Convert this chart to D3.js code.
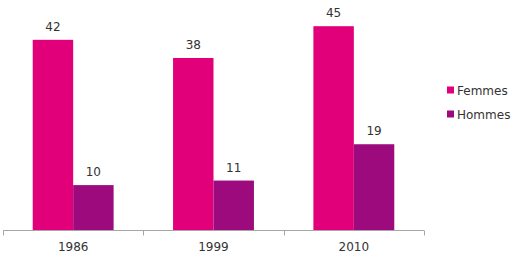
<!DOCTYPE html>
<html>
<head>
<meta charset="utf-8">
<script src="https://cdn.jsdelivr.net/npm/d3@7"></script>
<style>
  body { margin: 0; background: #fff; }
  text { font-family: "DejaVu Sans", Verdana, sans-serif; fill: #333; }
</style>
</head>
<body>
<svg width="514" height="257"></svg>
<script>
const years = ['1986', '1999', '2010'];
const series = ['Femmes', 'Hommes'];
const femmes = [42, 38, 45];
const hommes = [10, 11, 19];
const colors = ['#e2007a', '#9c0a7d'];

const svg = d3.select('svg');
const baseY = 230.5;

const x0 = d3.scaleBand().domain(years).range([3, 424]);
const x1 = d3.scaleBand().domain(series).range([0, x0.bandwidth()]).paddingOuter(0.735);
const y = d3.scaleLinear().domain([0, 50]).range([baseY, 3.5]);
const color = d3.scaleOrdinal().domain(series).range(colors);

const rows = years.map((yr, i) => ({ year: yr, values: [femmes[i], hommes[i]] }));

const groups = svg.selectAll('g.grp').data(rows).join('g')
  .attr('class', 'grp')
  .attr('transform', d => `translate(${x0(d.year)},0)`);

groups.selectAll('rect')
  .data(d => d.values.map((v, j) => ({ key: series[j], v })))
  .join('rect')
  .attr('x', d => x1(d.key))
  .attr('y', d => y(d.v))
  .attr('width', x1.bandwidth())
  .attr('height', d => baseY - y(d.v))
  .attr('fill', d => color(d.key));

groups.selectAll('text.val')
  .data(d => d.values.map((v, j) => ({ key: series[j], v })))
  .join('text')
  .attr('class', 'val')
  .attr('x', d => x1(d.key) + x1.bandwidth() / 2)
  .attr('y', d => y(d.v) - 9)
  .attr('text-anchor', 'middle')
  .style('font-size', '12px')
  .text(d => d.v);

// x axis
const axis = svg.append('g');
axis.append('line')
  .attr('x1', x0.range()[0]).attr('x2', x0.range()[1])
  .attr('y1', baseY).attr('y2', baseY)
  .attr('stroke', '#a6a6a6');
const edges = years.map(d => x0(d)).concat([x0.range()[1]]);
axis.selectAll('line.tick').data(edges).join('line')
  .attr('class', 'tick')
  .attr('x1', d => Math.round(d) + 0.5).attr('x2', d => Math.round(d) + 0.5)
  .attr('y1', baseY).attr('y2', baseY + 5)
  .attr('stroke', '#a6a6a6');
axis.selectAll('text').data(years).join('text')
  .attr('x', d => x0(d) + x0.bandwidth() / 2)
  .attr('y', 251)
  .attr('text-anchor', 'middle')
  .style('font-size', '12px')
  .text(d => d);

// legend
const legend = svg.append('g').attr('transform', 'translate(447,0)');
const li = legend.selectAll('g').data(series).join('g')
  .attr('transform', (d, i) => `translate(0,${90 + i * 24})`);
li.append('rect')
  .attr('x', 0).attr('y', -3.5)
  .attr('width', 7).attr('height', 7)
  .attr('fill', d => color(d));
li.append('text')
  .attr('x', 10).attr('y', 4.5)
  .style('font-size', '12px')
  .text(d => d);
</script>
</body>
</html>
